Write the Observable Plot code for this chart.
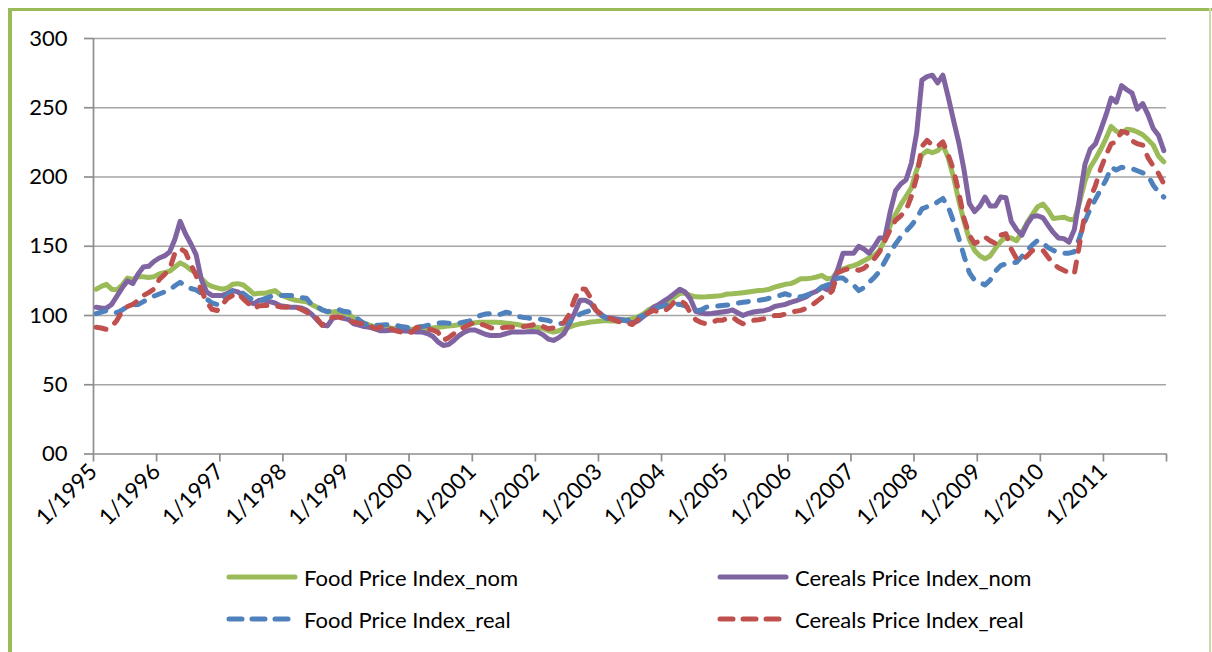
<!DOCTYPE html>
<html>
<head>
<meta charset="utf-8">
<script src="https://cdn.jsdelivr.net/npm/d3@7"></script>
<script src="https://cdn.jsdelivr.net/npm/@observablehq/plot@0.6"></script>
<style>
  html, body { margin: 0; padding: 0; background: #fff; }
  body { width: 1212px; height: 652px; position: relative; overflow: hidden; font-family: Lato, "Open Sans", sans-serif; }
  #chart { position: absolute; left: 0; top: 0; }
  .bl { position: absolute; background: #9BBB59; }
  .legend-item { position: absolute; display: flex; align-items: center; font-size: 22px; color: #000; white-space: nowrap; }
  .legend-item svg { margin-right: 6px; }
</style>
</head>
<body>
<div class="bl" style="left:8px;top:8px;width:4px;height:644px;"></div>
<div class="bl" style="left:8px;top:8px;width:1204px;height:3px;"></div>
<div class="bl" style="left:1209px;top:8px;width:2px;height:644px;background:#C9DBA6;"></div>
<div id="chart"></div>
<div id="legend"></div>
<script>
// ---- Data (monthly, Jan 1995 - Dec 2011) ----
const startYear = 1995;
const endYear = 2012;
const xTickYears = [1995,1996,1997,1998,1999,2000,2001,2002,2003,2004,2005,2006,2007,2008,2009,2010,2011,2012];
const xTickLabels = ["1/1995","1/1996","1/1997","1/1998","1/1999","1/2000","1/2001","1/2002","1/2003","1/2004","1/2005","1/2006","1/2007","1/2008","1/2009","1/2010","1/2011",""];
const yTicks = [0,50,100,150,200,250,300];
const yTickLabels = ["00","50","100","150","200","250","300"];

const seriesNames = ["Food Price Index_nom","Cereals Price Index_nom","Food Price Index_real","Cereals Price Index_real"];
const seriesColors = ["#9BBB59","#8064A2","#4F81BD","#C0504D"];
const seriesDashed = [false,false,true,true];

const foodNom = [
119,121,122.5,119,118.5,122,127,126,128,128,127.5,128,
130,131,132,135,138,136,133,131,127,123,121,120,
119,120,122.5,123,122,119,115.5,116,116,117,118,115,
113.5,112,111,110.5,110,108,106,104,102.5,102.5,103,102,
101,98,96,94.5,93,92,91.6,91.6,91,90.5,89.5,89.5,
90,90.5,90.5,90.5,91,91.5,91.8,92.5,92.8,93.3,93.8,94,
94.8,95.2,95.2,95.2,95.2,95,94.5,94,93.5,92.8,92.3,91.8,
91.3,90.5,89,88,89,90.5,91.6,93,94,94.5,95.3,95.6,
96,96.4,96,96,96.5,97,97.6,99,101,104,106,107.5,
109,111,113.5,116,116,114.5,113.5,113.3,113.5,113.8,114,114.5,
115.5,115.7,116,116.5,117,117.5,118,118.3,119,120.5,121.5,122.5,
123,124.5,126.5,126.5,127,127.8,129,126.5,127,132,133.5,135,
136,137.5,139.5,141.5,143.5,147,155,165,173,180,186,192,
205,216,219,217.5,219,223,214,200,183,168,155,147,
143,141,143,148.5,153.5,156.5,156,154,160,167,173,178.5,
180.5,176,170,170.5,171,169.5,169,182,197,207,213,220,
228,236.5,233,231.5,234.5,234,232.5,230.5,227,223,215,211];

const cerealsNom = [
106,105.5,105.3,108,114,120,125,123,130,135,135.5,139,
141.5,143,145.8,155,168,159,152,144,126,117,114.5,114.5,
114.5,116,118,117,114,109.7,108.5,111,111,110,109,107,
106.5,106,106,105.5,104,101,97,93,92.5,98,99,98,
97,94,93,92,91.5,90.5,89,89,89.3,89.3,89,88.8,
88.5,88,88,87,85,81,78.4,79,82,85.5,88,89.5,
89.5,88,86.5,85.6,85.6,85.8,87,88,88,88,88.3,88.5,
88,86,83,82,84,87,94,102,111,111,109,104,
100,98.5,98,97.5,97,96,94.5,96,99,102,106,108,
110.5,113,116,119,117,112,103,102,101.2,101.5,102,102.5,
103,104,102,100,101.5,102.5,103,103.5,104.5,106.5,107.3,108,
109.5,110.5,112,113.5,116,117.5,120.5,118.5,124,133,145,145,
145,150,148,145,150,156,156.5,175,190,195,198,210,
232,270,272.5,273.5,268,273.5,258,241,225,205,181,175,
179,185.5,179,179,185.5,185,168,162,158,166,171.5,172,
170.5,165,160,156,155.5,153,162,185,209,220,224,234,
245,257,254,266,263,260.5,249,253,245,235,230,219];

const foodReal = [
101.3,102.5,103.5,103.6,102,104,106.5,107.5,108,110,112,114,
115.5,117,118.5,121.5,124,121.5,119.5,118.5,116,112,109,108,
110,115,117.5,118,116,113,111,110.5,112,113.5,114.5,114.5,
114.5,114.5,114,113,112.5,108,106.5,104,102.8,103.5,104.5,103,
102.5,100,97,94,93.5,93,93,93.3,93.6,93,92,91.5,
91,91.5,92,92.8,93.5,94.5,94.8,94.5,94,94.5,95.3,96,
98,100,101,101.3,100.2,101,102.4,101.5,99.5,98.8,98.3,97.6,
97.5,97,96.4,95,94,94.5,95.2,98,101,102.5,103.6,102.5,
101,98,97,96.5,96.5,96.5,97.5,98.5,100,102,104.5,106,
107,108,108.5,108,107,105,103.5,104,106,106.5,106.8,107.2,
107.5,108.5,109,109.5,110,110.5,111,111.5,112.5,113.3,114.5,115.7,
114.5,113.5,113.5,114.5,116,117,120.5,122,124,127,127,124,
122,118,120,124,127.5,132,139,146,151.5,157,161,165,
170,177,178.5,179.5,182,184.5,178.5,168,156,143,131,125.5,
124,122,125.5,132,136,137.3,138,138.5,142.5,147,151,154.3,
152,149,147,145.5,145,145,146,156.4,168,177,184,191,
198,207,205,207,206.5,206,204.5,203,201,194,189,185.5];

const cerealsReal = [
91.5,91,90,92,96.5,103,106.5,108,111,114.5,116.5,119,
126,129.5,133.5,145,148.3,146,137,129,118,110,104.5,103.6,
108,112.5,114.5,116,112,108.5,105,107,107.3,107.3,107,106.2,
106,106.5,106,104.5,102.6,100,98,93,96,99,99,98,
96.5,95.2,94.5,94,93,90.4,91.5,92.8,90.5,89,88,87,
88,91.6,91,90.4,89.5,88,82,84,86.8,89.5,91.6,93.5,
95.2,94,92.8,91.2,90.4,91,91.6,91.6,91.6,91.8,92.5,93.2,
94,92,90.4,91,92.8,95,101,112,119.3,119,113,104,
101,98.5,97.6,96,95,94.5,93.5,97,100,102,103.7,102.5,
103,106,110,111,108.5,102,97,95,94,95,96.5,96.5,
98,98.8,96,94,95,96.5,97,97.6,99,100,100,101,
102.5,103,103.7,105,107.3,110,113,114,118,131,132.5,133.8,
133.5,132.6,134,137.3,141,146,154,162,168.7,172,176,186,
200,222,226.5,223,222,225.4,216,205,189,170,158,152,
154,156.6,154,152,158,159,148,141,140,143,147,147,
147,142,137.3,134.5,132.6,131,130,152,173.5,184,194,206,
216,224,225.4,233,232,226,224,223,214,208,202.5,195];

const seriesValues = [foodNom, cerealsNom, foodReal, cerealsReal];

// ---- Build tables ----
const months = d3.utcMonth.range(new Date(Date.UTC(startYear,0,1)), new Date(Date.UTC(endYear,0,1)));
// each value sits at the middle of its month (category centre)
const mid = m => new Date((+m + +d3.utcMonth.offset(m,1)) / 2);
const tables = seriesValues.map((vals, s) => vals.map((v, i) => ({date: mid(months[i]), value: v, series: seriesNames[s]})));

const xTickDates = xTickYears.map(y => new Date(Date.UTC(y,0,1)));
const xLabelMap = new Map(xTickDates.map((d,i) => [+d, xTickLabels[i]]));
const yLabelMap = new Map(yTicks.map((t,i) => [t, yTickLabels[i]]));

const gridColor = "#A5A5A5";
const axisColor = "#8E8E8E";

const lineMarks = tables.map((t, s) => Plot.line(t, {
  x: "date", y: "value",
  stroke: seriesColors[s],
  strokeWidth: 5,
  strokeLinejoin: "round",
  strokeLinecap: "round",
  strokeDasharray: seriesDashed[s] ? "10,11" : null
}));

const chart = Plot.plot({
  width: 1212,
  height: 540,
  marginLeft: 93,
  marginRight: 46,
  marginTop: 38,
  marginBottom: 86.5,
  style: {fontFamily: "Lato, 'Open Sans', sans-serif", fontSize: "22px", color: "#000", background: "transparent", overflow: "visible"},
  x: {type: "utc", domain: [new Date(Date.UTC(startYear,0,1)), new Date(Date.UTC(endYear,0,1))], label: null},
  y: {domain: [0, 300], label: null},
  marks: [
    Plot.ruleY(yTicks.filter(t => t > 0), {stroke: gridColor, strokeWidth: 1.7}),
    Plot.ruleX([new Date(Date.UTC(startYear,0,1))], {y1: 0, y2: 300, stroke: axisColor, strokeWidth: 1.7}),
    Plot.ruleY([0], {stroke: axisColor, strokeWidth: 1.7}),
    Plot.axisY({ticks: yTicks, tickFormat: d => yLabelMap.get(d), label: null, tickSize: 9, tickPadding: 17, stroke: axisColor, strokeWidth: 1.7, fill: "#000", fontSize: 22}),
    Plot.axisX({ticks: xTickDates, tickFormat: d => xLabelMap.get(+d), label: null, tickRotate: -45, tickSize: 8, tickPadding: 6, stroke: axisColor, strokeWidth: 1.7, fill: "#000", fontSize: 22.5}),
    ...lineMarks
  ]
});
document.getElementById("chart").appendChild(chart);

// ---- Legend ----
const legendPos = [
  {left: 226, top: 577},
  {left: 717, top: 577},
  {left: 226, top: 619},
  {left: 717, top: 619}
];
const legend = document.getElementById("legend");
seriesNames.forEach((name, s) => {
  const item = document.createElement("div");
  item.className = "legend-item";
  item.style.left = legendPos[s].left + "px";
  item.style.top = (legendPos[s].top - 15) + "px";
  item.style.height = "30px";
  const line = seriesDashed[s]
    ? `<line x1="3" y1="5" x2="62" y2="5" stroke="${seriesColors[s]}" stroke-width="5" stroke-linecap="round" stroke-dasharray="13,10"/>`
    : `<line x1="3" y1="5" x2="69" y2="5" stroke="${seriesColors[s]}" stroke-width="5" stroke-linecap="round"/>`;
  item.innerHTML = `<svg width="72" height="10">${line}</svg><span>${name}</span>`;
  legend.appendChild(item);
});
</script>
</body>
</html>
